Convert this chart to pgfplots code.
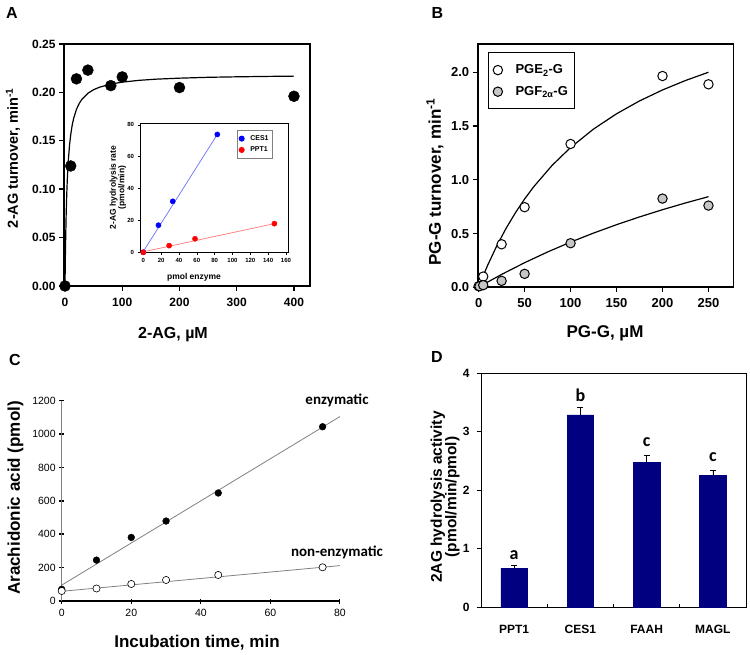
\documentclass[border=0pt]{standalone}
\usepackage{fontspec}
\setmainfont{Liberation Sans}
\newfontfamily\calib{Carlito}
\usepackage{pgfplots}
\pgfplotsset{compat=1.18}
\newcommand{\fs}[1]{\fontsize{#1}{#1}\selectfont}
\definecolor{navyb}{RGB}{0,0,128}
\definecolor{insetblue}{RGB}{110,110,255}
\definecolor{insetred}{RGB}{255,120,120}
\begin{document}
\begin{tikzpicture}[x=1pt,y=1pt]

% ---------------- Panel A ----------------
\begin{axis}[
  at={(64pt,368pt)}, anchor=south west, scale only axis,
  width=246pt, height=242pt,
  xmin=-1.75, xmax=428, ymin=0, ymax=0.25,
  xtick={0,100,200,300,400}, ytick={0,0.05,0.10,0.15,0.20,0.25},
  axis line style={line width=1.6pt},
  tick align=outside, tick pos=left, major tick length=5pt,
  tick style={line width=1.4pt, black},
  /pgf/number format/assume math mode=true,
  ticklabel style={font=\bfseries\fs{12}},
  xticklabel style={yshift=-4pt},
  yticklabel style={/pgf/number format/.cd, fixed, fixed zerofill, precision=2},
]
\addplot[black, line width=1.2pt] coordinates {
(0,0) (0.5,0.02433) (1,0.0438) (2,0.0730) (3,0.0939) (4,0.1095) (5,0.1217) (6,0.1314)
(8,0.1460) (10,0.1564) (12.5,0.1659) (15,0.1729) (20,0.1825) (25,0.1888) (30,0.1932)
(40,0.1991) (50,0.2028) (60,0.2053) (80,0.2086) (100,0.2106) (130,0.2125) (160,0.2137)
(200,0.2147) (250,0.2156) (300,0.2161) (350,0.2165) (400,0.2168)};
\addplot[only marks, mark=*, mark size=5.5pt, black] coordinates {
(0,0) (10,0.124) (20,0.214) (40,0.223) (80,0.207) (100,0.216) (200,0.205) (400,0.196)};
\end{axis}

% inset
\begin{axis}[
  at={(140pt,401.7pt)}, anchor=south west, scale only axis,
  width=148.3pt, height=129pt,
  xmin=-3.7, xmax=162.6, ymin=0, ymax=81,
  xtick={0,20,...,160}, ytick={0,20,...,80},
  axis background/.style={fill=white},
  axis line style={line width=0.8pt},
  tick align=outside, tick pos=left, major tick length=2.5pt,
  tick style={line width=0.6pt, black},
  /pgf/number format/assume math mode=true,
  ticklabel style={font=\bfseries\fs{6}},
  legend style={at={(0.652,0.948)}, anchor=north west, draw=gray, line width=0.8pt,
    font=\bfseries\fs{7}, inner xsep=2pt, inner ysep=3pt, row sep=1pt,
    /tikz/every odd column/.append style={column sep=4pt}},
  legend cell align=left,
]
\addplot[forget plot, insetblue, line width=0.7pt] coordinates {(0,0.5) (83,74)};
\addplot[forget plot, insetred, line width=0.7pt] coordinates {(0,0.3) (147,18)};
\addplot[only marks, mark=*, mark size=2.6pt, color=blue] coordinates {(0,0) (17,17) (33,32) (83,74)};
\addlegendentry{CES1}
\addplot[only marks, mark=*, mark size=2.6pt, color=red] coordinates {(0,0) (29,4.2) (58,8.5) (147,18)};
\addlegendentry{PPT1}
\end{axis}

% ---------------- Panel B ----------------
\begin{axis}[
  at={(477.7pt,366.7pt)}, anchor=south west, scale only axis,
  width=255.6pt, height=243pt,
  xmin=-1, xmax=277, ymin=0, ymax=2.26,
  xtick={0,50,100,150,200,250}, ytick={0,0.5,1,1.5,2},
  axis line style={line width=1.6pt},
  tick align=outside, tick pos=left, major tick length=5pt,
  tick style={line width=1.4pt, black},
  /pgf/number format/assume math mode=true,
  ticklabel style={font=\bfseries\fs{13}},
  xticklabel style={yshift=-3pt},
  yticklabel style={/pgf/number format/.cd, fixed, fixed zerofill, precision=1},
  legend style={at={(0.039,0.967)}, anchor=north west, draw=black, line width=1pt,
    font=\bfseries\fs{13}, inner xsep=5pt, inner ysep=10pt, row sep=7pt,
    /tikz/every odd column/.append style={column sep=11pt}},
  legend cell align=left,
]
\addplot[forget plot, black, line width=1.2pt] coordinates {
(0,0) (5,0.1076) (10,0.208) (20,0.39) (30,0.5506) (40,0.6933) (50,0.8211) (60,0.936)
(80,1.1345) (100,1.3) (125,1.4717) (150,1.6138) (175,1.7333) (200,1.8353) (225,1.9233) (250,2.0)};
\addplot[forget plot, black, line width=1.2pt] coordinates {
(0,0) (10,0.0493) (25,0.1197) (50,0.2287) (75,0.3284) (100,0.42) (125,0.5043)
(150,0.5823) (175,0.6545) (200,0.7217) (225,0.7844) (250,0.8429)};
\addplot[only marks, mark=*, mark size=4.7pt, draw=black, fill=white, line width=1pt] coordinates {
(0,0.01) (5,0.10) (25,0.40) (50,0.745) (100,1.333) (200,1.965) (250,1.888)};
\addlegendentry{PGE\textsubscript{2}-G}
\addplot[only marks, mark=*, mark size=4.7pt, draw=black, fill=gray!45, line width=1pt] coordinates {
(1,0.01) (5,0.02) (25,0.06) (50,0.125) (100,0.41) (200,0.825) (250,0.76)};
\addlegendentry{PGF\textsubscript{2α}-G}
\end{axis}

% ---------------- Panel C ----------------
\begin{axis}[
  at={(61.7pt,53pt)}, anchor=south west, scale only axis,
  width=278.3pt, height=200.3pt,
  xmin=0, xmax=80, ymin=0, ymax=1200,
  axis x line=bottom, axis y line=left,
  axis line style={-},
  x axis line style={line width=1.8pt, black},
  y axis line style={gray, line width=0.8pt},
  xtick={0,20,...,80}, ytick={0,200,...,1200},
  tick align=center, major tick length=5pt,
  ytick style={black, line width=1.6pt},
  xtick style={black, line width=1pt},
  /pgf/number format/assume math mode=true,
  /pgf/number format/1000 sep={},
  ticklabel style={font=\fs{10.5}},
  xticklabel style={yshift=-2pt},
  clip=false,
]
\addplot[gray, line width=0.8pt] coordinates {(0,95) (80,1105)};
\addplot[gray, line width=0.8pt] coordinates {(0,58) (80,212)};
\addplot[only marks, mark=*, mark size=3.4pt, black] coordinates {
(0,70) (10,245) (20,381) (30,479) (45,647) (75,1044)};
\addplot[only marks, mark=*, mark size=3.6pt, draw=black, fill=white, line width=0.6pt] coordinates {
(0,60) (10,75) (20,102) (30,126) (45,156) (75,202)};
\end{axis}

% ---------------- Panel D ----------------
\begin{axis}[
  at={(481pt,46.7pt)}, anchor=south west, scale only axis,
  width=265pt, height=234pt,
  xmin=-0.5, xmax=3.5, ymin=0, ymax=4,
  xtick={0,1,2,3}, xticklabels={PPT1,CES1,FAAH,MAGL},
  minor xtick={0.5,1.5,2.5},
  ytick={0,1,2,3,4},
  axis line style={line width=0.8pt},
  tick align=inside, tick pos=left, major tick length=4.5pt, minor tick length=3.5pt,
  major x tick style={draw=none},
  minor x tick style={black, line width=0.8pt},
  ytick style={black, line width=0.8pt, xshift=-4.5pt},
  /pgf/number format/assume math mode=true,
  ticklabel style={font=\bfseries\fs{12}},
  xticklabel style={yshift=-14pt},
  yticklabel style={xshift=-8pt},
]
\addplot[ybar, bar width=0.4, fill=navyb, draw=navyb,
  error bars/.cd, y dir=plus, y explicit,
  error bar style={black, line width=0.6pt},
  error mark options={rotate=90, mark size=3pt, black, line width=0.6pt}]
  coordinates {(0,0.667) +- (0,0.045) (1,3.288) +- (0,0.131) (2,2.479) +- (0,0.119) (3,2.251) +- (0,0.085)};
\node[font=\calib\bfseries\fs{18}] at (axis cs:0,0.894) {a};
\node[font=\calib\bfseries\fs{18}] at (axis cs:1,3.63) {b};
\node[font=\calib\bfseries\fs{18}] at (axis cs:2,2.83) {c};
\node[font=\calib\bfseries\fs{18}] at (axis cs:3,2.57) {c};
\end{axis}

% ---------------- Labels ----------------
\node[font=\bfseries\fs{16}] at (12pt,641pt) {A};
\node[font=\bfseries\fs{16}] at (437.5pt,641pt) {B};
\node[font=\bfseries\fs{16}] at (15pt,294pt) {C};
\node[font=\bfseries\fs{16}] at (437pt,297pt) {D};

\node[font=\bfseries\fs{14.5}, rotate=90] at (13pt,496pt) {2-AG turnover, min\textsuperscript{-1}};
\node[font=\bfseries\fs{16}] at (173pt,319pt) {2-AG, µM};
\node[font=\bfseries\fs{8.5}, rotate=90, align=center] at (118pt,466.5pt) {2-AG hydrolysis rate\\(pmol/min)};
\node[font=\bfseries\fs{8.5}] at (194pt,377pt) {pmol enzyme};

\node[font=\bfseries\fs{17}, rotate=90] at (435pt,472pt) {PG-G turnover, min\textsuperscript{-1}};
\node[font=\bfseries\fs{17}] at (605pt,321pt) {PG-G, µM};

\node[font=\bfseries\fs{17}, rotate=90] at (15.5pt,156pt) {Arachidonic acid (pmol)};
\node[font=\bfseries\fs{17}] at (197pt,11pt) {Incubation time, min};
\node[font=\calib\bfseries\fs{15}] at (337pt,254pt) {enzymatic};
\node[font=\calib\bfseries\fs{15}] at (337pt,102pt) {non-enzymatic};

\node[font=\bfseries\fs{15.5}, rotate=90, align=center] at (445pt,157pt) {2AG hydrolysis activity\\[-1pt](pmol/min/pmol)};

\pgfresetboundingbox
\useasboundingbox (0pt,0pt) rectangle (750pt,654pt);
\end{tikzpicture}
\end{document}
